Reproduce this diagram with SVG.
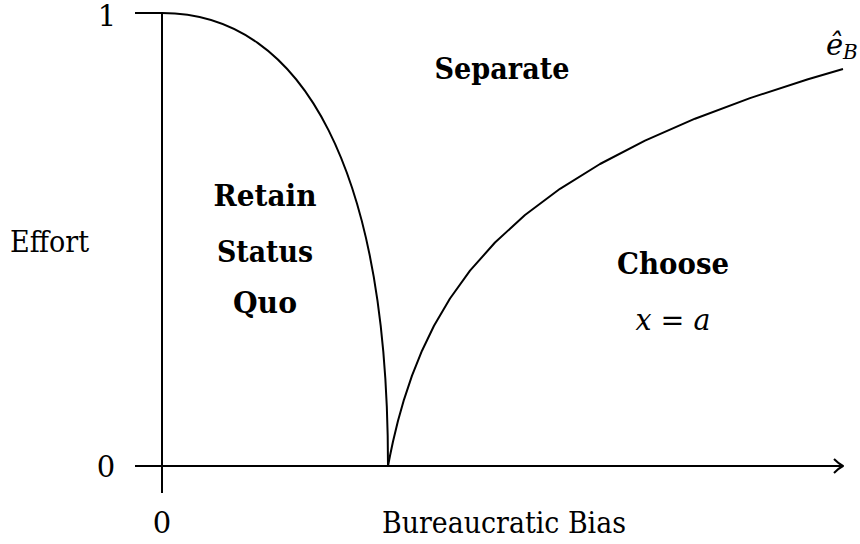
<svg xmlns="http://www.w3.org/2000/svg" width="860" height="544" viewBox="0 0 860 544">
<style>
.ln{fill:none;stroke:#000;stroke-width:2;stroke-linecap:butt;stroke-linejoin:round}
text{font-family:'DejaVu Serif','Liberation Serif',serif;font-size:29px;fill:#000}
.b{font-weight:bold;text-anchor:middle}
.m{font-style:italic}
</style>
<rect width="860" height="544" fill="#fff"/>
<g id="connectors">
<path id="yaxis" class="ln" d="M162,13 V493"/>
<path id="ytick1" class="ln" d="M135,13 H162"/>
<path id="xaxis" class="ln" d="M135,466 H842"/>
<path id="arrowhead" class="ln" d="M834,459 Q839,464 843,466 Q839,468 834,473"/>
<path id="curve-left" class="ln" d="M162,13 C305,13 388,175 388,466"/>
<path id="curve-right" class="ln" d="M388,466 L390,455.7 L393,441.5 L398,420.8 L404,399.6 L412,375.6 L422,350.7 L434,325.8 L450,298.5 L470,270.7 L495,242.5 L525,215 L560,188.8 L600,164 L645,140.6 L695,118.7 L750,98.1 L808,79.3 L843,69"/>
</g>
<g id="axis-labels">
<text x="107" y="26" text-anchor="middle">1</text>
<text x="106" y="477" text-anchor="middle">0</text>
<text x="162" y="533" text-anchor="middle">0</text>
<text x="10" y="252" textLength="79" lengthAdjust="spacingAndGlyphs">Effort</text>
<text x="382" y="533" textLength="244" lengthAdjust="spacingAndGlyphs">Bureaucratic Bias</text>
</g>
<g id="node-separate"><text class="b" x="502" y="79" textLength="135" lengthAdjust="spacingAndGlyphs">Separate</text></g>
<g id="node-retain">
<text class="b" x="265" y="206" textLength="103" lengthAdjust="spacingAndGlyphs">Retain</text>
<text class="b" x="265" y="262" textLength="96" lengthAdjust="spacingAndGlyphs">Status</text>
<text class="b" x="265" y="313" textLength="64" lengthAdjust="spacingAndGlyphs">Quo</text>
</g>
<g id="node-choose">
<text class="b" x="673" y="274" textLength="112" lengthAdjust="spacingAndGlyphs">Choose</text>
<text x="673" y="330" text-anchor="middle" textLength="75" lengthAdjust="spacingAndGlyphs"><tspan class="m">x</tspan> = <tspan class="m">a</tspan></text>
</g>
<g id="label-eb">
<text class="m" x="826" y="55">ê</text>
<text class="m" x="843" y="59" style="font-size:20px">B</text>
</g>
</svg>
